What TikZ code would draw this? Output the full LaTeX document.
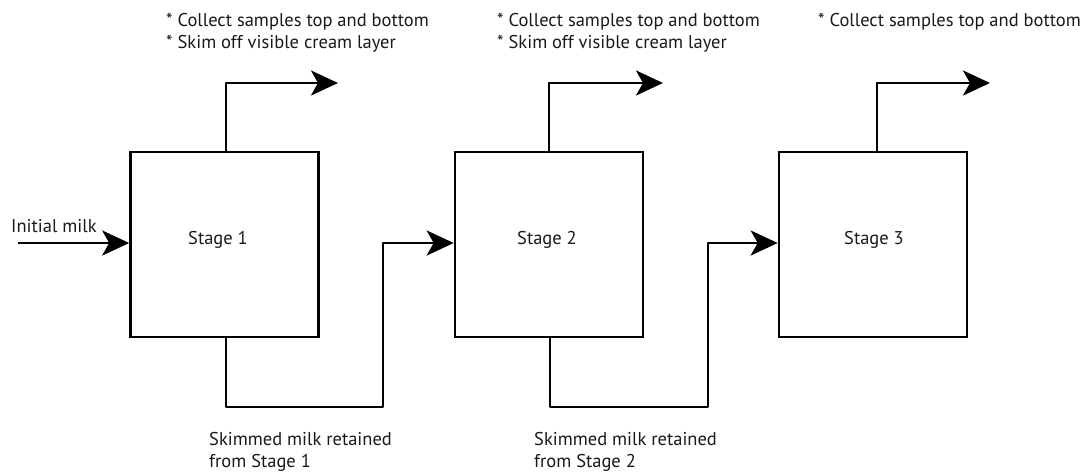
\documentclass[tikz,border=0pt]{standalone}
\usepackage{fontspec}
\setmainfont{PT Sans}
\usetikzlibrary{arrows.meta}
\tikzset{
  stagebox/.style={draw=black, line width=2.6pt, minimum width=188pt, minimum height=185pt, inner sep=0pt},
  flow/.style={draw=black, line width=2.8pt, line join=round, -{Stealth[length=27pt, width=25pt, inset=7pt]}},
  lbl/.style={font=\fontsize{18.5}{22}\selectfont, text=black!90, inner sep=0pt},
  txt/.style={lbl, anchor=base west},
}
\begin{document}
\begin{tikzpicture}[x=1pt,y=-1pt]
\useasboundingbox (0,0) rectangle (1085,474);
% boxes
\node[stagebox] (s1) at (224.5,244.5) {};
\node[stagebox] (s2) at (549,244.5) {};
\node[stagebox] (s3) at (873,244.5) {};
\node[lbl, anchor=base] (t1) at (218,244) {Stage 1};
\node[lbl, anchor=base] (t2) at (547,244) {Stage 2};
\node[lbl, anchor=base] (t3) at (874,244) {Stage 3};
% coordinates
\coordinate (in) at (18,243);
\coordinate (u1) at (226,83);
\coordinate (a1) at (338,83);
\coordinate (u2) at (549,83);
\coordinate (a2) at (663,83);
\coordinate (u3) at (877,83);
\coordinate (a3) at (990,83);
\coordinate (d1) at (226,407);
\coordinate (r1) at (383,407);
\coordinate (d2) at (550,407);
\coordinate (r2) at (708,407);
% input
\draw[flow] (in) -- (in -| s1.west);
% top outlets
\draw[flow] (s1.north -| u1) -- (u1) -- (a1);
\draw[flow] (s2.north -| u2) -- (u2) -- (a2);
\draw[flow] (s3.north -| u3) -- (u3) -- (a3);
% bottom transfers
\draw[flow] (s1.south -| d1) -- (d1) -- (r1) -- (r1 |- in) -- (in -| s2.west);
\draw[flow] (s2.south -| d2) -- (d2) -- (r2) -- (r2 |- in) -- (in -| s3.west);
% texts
\node[txt] (im) at (11,232) {Initial milk};
\node[txt] (n1a) at (166,26) {* Collect samples top and bottom};
\node[txt] (n1b) at (166,48) {* Skim off visible cream layer};
\node[txt] (n2a) at (497,26) {* Collect samples top and bottom};
\node[txt] (n2b) at (497,48) {* Skim off visible cream layer};
\node[txt] (n3a) at (818,26) {* Collect samples top and bottom};
\node[txt] (b1a) at (209,445) {Skimmed milk retained};
\node[txt] (b1b) at (209,467) {from Stage 1};
\node[txt] (b2a) at (534,445) {Skimmed milk retained};
\node[txt] (b2b) at (534,467) {from Stage 2};
\end{tikzpicture}
\end{document}
